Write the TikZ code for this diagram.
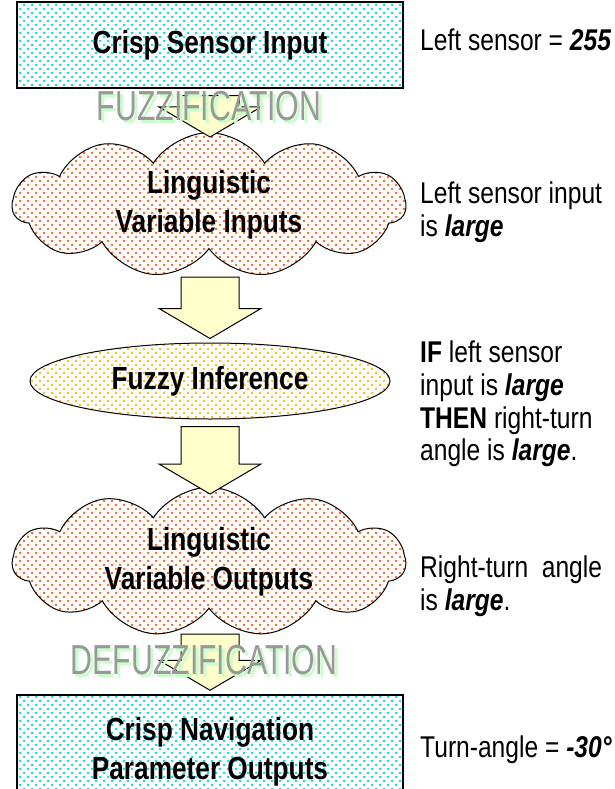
\documentclass[tikz,border=0pt]{standalone}
\usepackage{fontspec}
\setmainfont{Liberation Sans}[FakeStretch=0.82]
\newfontfamily\wordartfont{Liberation Sans}[FakeStretch=0.72]
\usetikzlibrary{shapes.symbols,shapes.geometric,patterns,calc}

\definecolor{dotcyan}{HTML}{00E8F0}
\definecolor{dotorange}{HTML}{FF7028}
\definecolor{dotgold}{HTML}{FFC010}
\definecolor{arrowyellow}{HTML}{FFFFCC}
\definecolor{wordgray}{HTML}{999999}
\definecolor{wordgreen}{HTML}{C8FFC8}

% staggered dot fill
\pgfdeclarepatternformonly{fuzzdots}{\pgfqpoint{-1pt}{-1pt}}{\pgfqpoint{7pt}{7pt}}{\pgfqpoint{8pt}{8pt}}{%
  \pgfpathrectangle{\pgfqpoint{-1pt}{-1pt}}{\pgfqpoint{2pt}{2pt}}%
  \pgfpathrectangle{\pgfqpoint{3pt}{3pt}}{\pgfqpoint{2pt}{2pt}}%
  \pgfusepath{fill}}

\tikzset{
  stagetext/.style={align=center, font=\fontsize{32}{39}\selectfont\bfseries},
  crispbox/.style={stagetext, draw, line width=1.5pt, preaction={fill=white},
    pattern=fuzzdots, pattern color=dotcyan, minimum width=386pt},
  fuzzcloud/.style={stagetext, cloud, cloud puffs=11, cloud puff arc=115, cloud ignores aspect,
    draw, line width=1pt, preaction={fill=white}, pattern=fuzzdots, pattern color=dotorange,
    minimum width=393pt, minimum height=129pt},
  inferoval/.style={stagetext, ellipse, draw, line width=1pt, preaction={fill=white},
    pattern=fuzzdots, pattern color=dotgold, minimum width=360pt, minimum height=76pt},
  note/.style={anchor=west, align=left, inner sep=0pt, font=\fontsize{30}{32.7}\selectfont},
  blockarrow/.style={draw, line width=1pt, fill=arrowyellow, line join=miter},
  wordart/.style={font=\wordartfont\fontsize{42}{42}\selectfont, text=wordgray, inner sep=0pt},
  wordshadow/.style={wordart, text=wordgreen},
}

\newcommand\fuzzarrow[2]{%
  \draw[blockarrow] let \p1=(#1), \p2=(#2) in
    (\x1-29pt,\y1-7pt) -- (\x1+29pt,\y1-7pt) -- (\x1+29pt,\y2+34pt) -- (\x1+51pt,\y2+34pt)
    -- (\x1,\y2+4pt) -- (\x1-51pt,\y2+34pt) -- (\x1-29pt,\y2+34pt) -- cycle;}

\begin{document}
\begin{tikzpicture}[x=1pt,y=-1pt]
\useasboundingbox (0,0) rectangle (615,789);

% stages
\node[crispbox, minimum height=86pt] (sensor) at (210,45) {Crisp Sensor Input};
\node[fuzzcloud] (lvin) at (209,205) {Linguistic\\Variable Inputs};
\node[inferoval] (infer) at (210,381) {Fuzzy Inference};
\node[fuzzcloud] (lvout) at (209,562) {Linguistic\\Variable Outputs};
\node[crispbox, minimum height=114pt] (navout) at (210,752) {Crisp Navigation\\Parameter Outputs};

% cloud ends for the arrows
\coordinate (lvin-top) at ($(lvin.center)+(1,-64)$);
\coordinate (lvin-bot) at ($(lvin.center)+(1,65)$);
\coordinate (lvout-top) at ($(lvout.center)+(1,-64)$);
\coordinate (lvout-bot) at ($(lvout.center)+(1,65)$);

% arrows
\fuzzarrow{sensor.south}{lvin-top}
\fuzzarrow{lvin-bot}{infer.north}
\fuzzarrow{infer.south}{lvout-top}
\fuzzarrow{lvout-bot}{navout.north}

% step names
\node[wordshadow] (fuzzshadow) at (212,109) {FUZZIFICATION};
\node[wordart] (fuzzword) at (209,106) {FUZZIFICATION};
\node[wordshadow] (defuzzshadow) at (207,663) {DEFUZZIFICATION};
\node[wordart] (defuzzword) at (204,660) {DEFUZZIFICATION};

% example values
\node[note] (rawnote) at (420,40) {Left sensor = \textbf{\textit{255}}};
\node[note] (innote) at (420,212) {Left sensor input\\is \textbf{\textit{large}}};
\node[note] (rulenote) at (420,404) {\textbf{IF} left sensor\\input is \textbf{\textit{large}}\\\textbf{THEN} right-turn\\angle is \textbf{\textit{large}}.};
\node[note] (outnote) at (420,586) {Right-turn\ \ angle\\is \textbf{\textit{large}}.};
\node[note] (crispnote) at (420,750) {Turn-angle = \textbf{\textit{-30°}}};
\end{tikzpicture}
\end{document}
